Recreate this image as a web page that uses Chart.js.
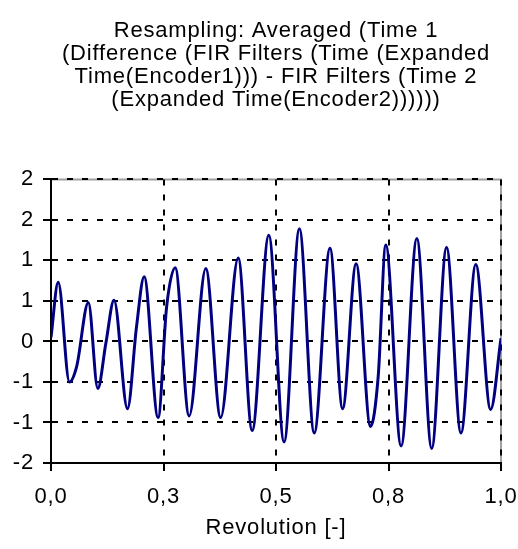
<!DOCTYPE html>
<html>
<head>
<meta charset="utf-8">
<script src="https://cdn.jsdelivr.net/npm/chart.js@4.4.1/dist/chart.umd.min.js"></script>
<style>
  html, body { margin: 0; padding: 0; background: #fff; }
  canvas { display: block; }
</style>
</head>
<body>
<canvas id="myChart" width="518" height="549"></canvas>
<script>
// values (peaks, troughs and shoulders)
const revolution = [0, 0.016, 0.041, 0.057, 0.083, 0.104, 0.122, 0.14, 0.17, 0.19, 0.207, 0.238, 0.257, 0.276,
    0.307, 0.344, 0.377, 0.416, 0.447, 0.484, 0.518, 0.552, 0.585, 0.62, 0.648, 0.678, 0.71, 0.727, 0.744,
    0.778, 0.813, 0.846, 0.879, 0.911, 0.944, 0.977, 1.0];
const difference = [0.05, 0.73, -0.50, -0.31, 0.48, -0.58, -0.02, 0.51, -0.83, 0.18, 0.80, -0.94, 0.43, 0.91,
    -0.92, 0.90, -0.94, 1.03, -1.10, 1.31, -1.24, 1.39, -1.13, 1.15, -0.83, 0.96, -1.05, -0.44, 1.19,
    -1.29, 1.27, -1.32, 1.16, -1.13, 0.95, -0.84, 0.04];

const xTickLabels = ['0,0', '0,3', '0,5', '0,8', '1,0'];
const yTickLabels = ['-2', '-1', '-1', '0', '1', '1', '2', '2'];  // bottom to top

const titleLines = [
    'Resampling: Averaged (Time 1',
    '(Difference (FIR Filters (Time (Expanded',
    'Time(Encoder1))) - FIR Filters (Time 2',
    '(Expanded Time(Encoder2))))))'
];

const FONT = "'Liberation Sans', Arial, sans-serif";

// the reference text is set a bit wider than plain Arial
const wideText = {
    id: 'wideText',
    beforeUpdate(chart) { chart.ctx.letterSpacing = '0.8px'; }
};

// grey plot border on top and right, under the dotted grid
const plotFrame = {
    id: 'plotFrame',
    beforeDraw(chart) {
        const { ctx, chartArea: a } = chart;
        ctx.save();
        ctx.strokeStyle = '#a0a0a0';
        ctx.lineWidth = 2;
        ctx.beginPath();
        ctx.moveTo(a.left, a.top);
        ctx.lineTo(a.right, a.top);
        ctx.lineTo(a.right, a.bottom);
        ctx.stroke();
        ctx.restore();
    }
};

const ctx = document.getElementById('myChart').getContext('2d');
new Chart(ctx, {
    type: 'line',
    data: {
        datasets: [{
            data: revolution.map((r, i) => ({ x: r, y: difference[i] })),
            borderColor: '#000080',
            borderWidth: 3,
            pointRadius: 0,
            cubicInterpolationMode: 'monotone',
            fill: false
        }]
    },
    options: {
        responsive: false,
        animation: false,
        layout: { padding: { right: 17 } },
        plugins: {
            legend: { display: false },
            tooltip: { enabled: false },
            title: {
                display: true,
                text: titleLines,
                fullSize: false,
                color: '#000',
                font: { family: FONT, size: 22, weight: 'normal', lineHeight: 1.05 },
                padding: { top: 19, bottom: 68 }
            }
        },
        scales: {
            x: {
                type: 'linear',
                min: 0,
                max: 1,
                afterFit(scale) {
                    scale.height = 86;
                    scale.paddingLeft = 0;
                    scale.paddingRight = 0;
                },
                afterBuildTicks(scale) {
                    scale.ticks = xTickLabels.map((_, i) => ({ value: i * 0.25 }));
                },
                ticks: {
                    color: '#000',
                    font: { family: FONT, size: 22 },
                    padding: 13,
                    maxRotation: 0,
                    autoSkip: false,
                    callback: (v, i) => xTickLabels[i]
                },
                grid: {
                    color: '#000',
                    lineWidth: 2,
                    tickLength: 8,
                    tickColor: '#000',
                    tickWidth: 2,
                    tickBorderDash: []
                },
                border: { display: true, color: '#000', width: 2, dash: [6, 9] },
                title: {
                    display: true,
                    text: 'Revolution [-]',
                    color: '#000',
                    font: { family: FONT, size: 22, lineHeight: 1.1 },
                    padding: { top: 0, bottom: 9 }
                }
            },
            y: {
                type: 'linear',
                min: -1.5,
                max: 2,
                afterFit(scale) {
                    scale.width = 51;
                    scale.paddingTop = 0;
                    scale.paddingBottom = 0;
                },
                afterBuildTicks(scale) {
                    scale.ticks = yTickLabels.map((_, i) => ({ value: -1.5 + i * 0.5 }));
                },
                ticks: {
                    color: '#000',
                    font: { family: FONT, size: 22 },
                    padding: 9,
                    autoSkip: false,
                    callback: (v, i) => yTickLabels[i]
                },
                grid: {
                    color: '#000',
                    lineWidth: 2,
                    tickLength: 8,
                    tickColor: '#000',
                    tickWidth: 2,
                    tickBorderDash: []
                },
                border: { display: true, color: '#000', width: 2, dash: [6, 9] }
            }
        }
    },
    plugins: [wideText, plotFrame]
});
</script>
</body>
</html>
